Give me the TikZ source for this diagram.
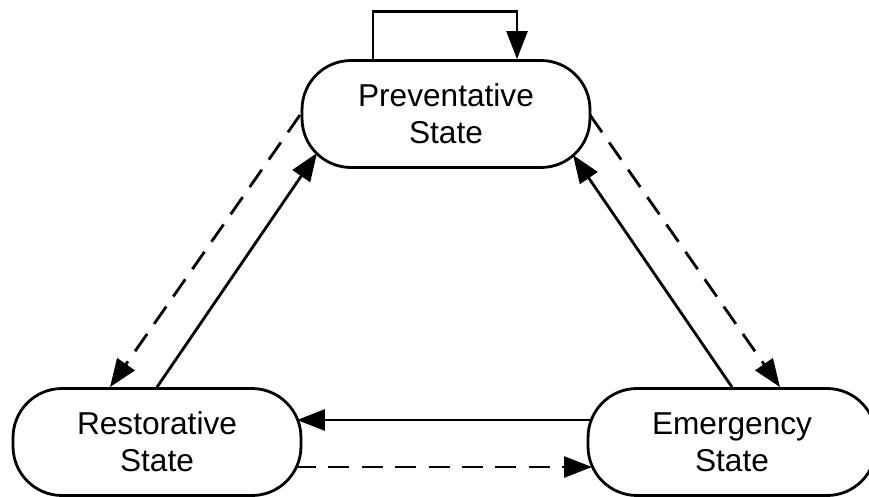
\documentclass[tikz,border=0pt]{standalone}
\usepackage{fontspec}
\setmainfont{Liberation Sans}
\usetikzlibrary{calc, arrows.meta}

\begin{document}
\begin{tikzpicture}[x=0.02cm, y=-0.02cm, line width=1.6pt,
  state/.style={draw, rectangle, rounded corners=0.98cm,
    minimum width=5.76cm, minimum height=2.14cm, inner sep=0pt,
    align=center, font=\fontsize{18}{21}\selectfont},
  arr/.style={-{Triangle[length=5.6mm,width=4.2mm]}},
  dsh/.style={dash pattern=on 12pt off 7pt}]
    \useasboundingbox (0,0) rectangle (869,497);
    %三つの状態
    \node[state] (prev) at (446,114) {Preventative\\State};
    \node[state] (rest) at (157,442) {Restorative\\State};
    \node[state] (emer) at (732,442) {Emergency\\State};
    %自己ループ
    \draw[arr] ($(prev.north)+(-73,0)$) -- ++(0,-48) -| ($(prev.north)+(71,0)$);
    %左の辺
    \draw[arr, dsh] ($(prev)+(-146,1)$) -- ($(rest.north)+(-47,0)$);
    \draw[arr] (rest.north) -- ($(prev)+(-129,39)$);
    %右の辺
    \draw[arr, dsh] ($(prev)+(144,1)$) -- ($(emer.north)+(48,0)$);
    \draw[arr] (emer.north) -- ($(prev)+(127,41)$);
    %下の辺
    \draw[arr] ($(emer)+(-142,-22)$) -- ($(rest)+(140,-22)$);
    \draw[arr, dsh] ($(rest)+(138,25)$) -- ($(emer)+(-140,25)$);
\end{tikzpicture}
\end{document}
